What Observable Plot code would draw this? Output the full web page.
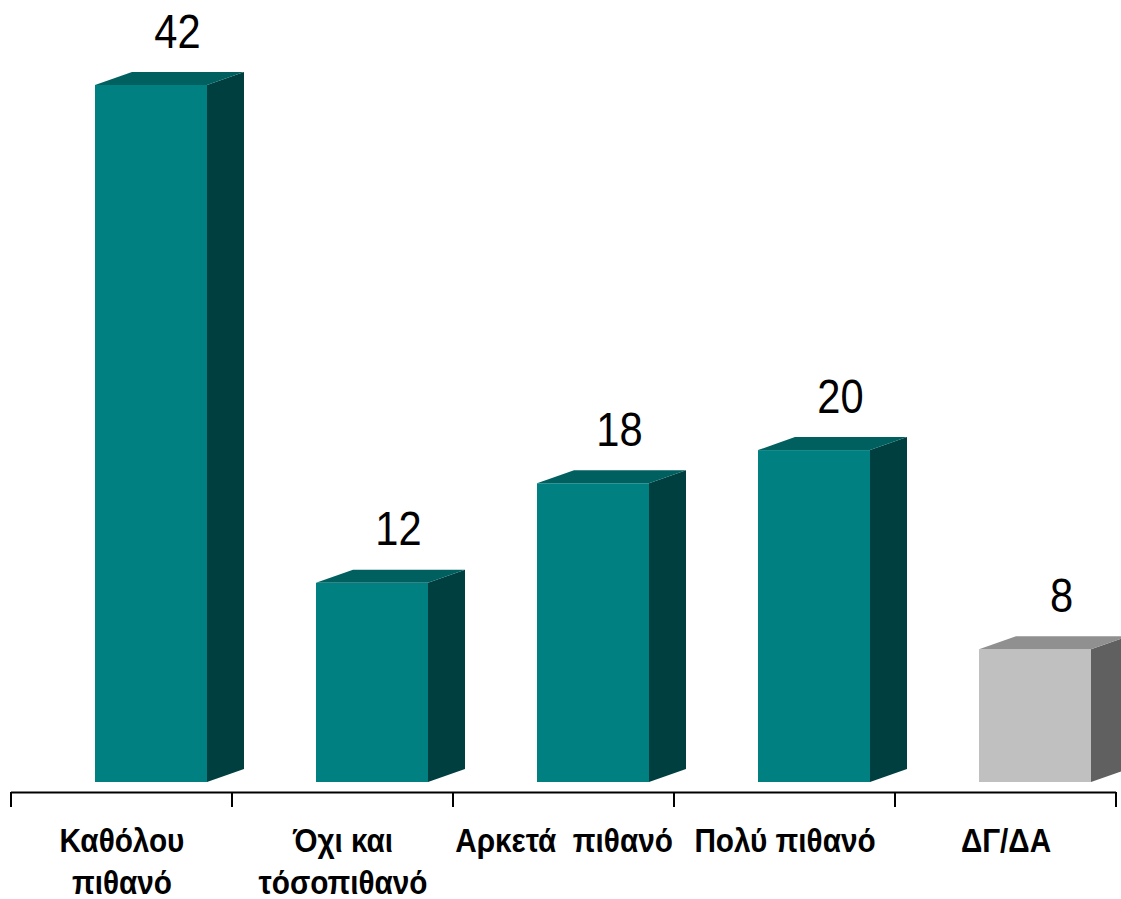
<!DOCTYPE html>
<html>
<head>
<meta charset="utf-8">
<script src="https://cdn.jsdelivr.net/npm/d3@7"></script>
<script src="https://cdn.jsdelivr.net/npm/@observablehq/plot@0.6"></script>
<style>
  html, body { margin: 0; padding: 0; background: #ffffff; }
  #chart svg { display: block; }
</style>
</head>
<body>
<div id="chart"></div>
<script>
const categories = ["Καθόλου\nπιθανό", "Όχι και\nτόσοπιθανό", "Αρκετά  πιθανό", "Πολύ πιθανό", "ΔΓ/ΔΑ"];
const values = [42, 12, 18, 20, 8];
const isNoAnswer = [false, false, false, false, true];

const data = categories.map((c, i) => ({
  category: c, value: values[i], na: isNoAnswer[i],
  line1: c.split("\n")[0], line2: c.split("\n")[1] || ""
}));

const FRONT = {teal: "#008080", gray: "#c0c0c0"};
const SIDE = {teal: "#003f3f", gray: "#606060"};
const TOP = {teal: "#006060", gray: "#909090"};
const tone = d => d.na ? "gray" : "teal";

const INSET_L = 84, INSET_R = 25, DX = 37, DY = 13;
const FONT = "'Liberation Sans', Arial, sans-serif";

const chart = Plot.plot({
  width: 1121,
  height: 899,
  marginLeft: 11,
  marginRight: 5,
  marginTop: 0,
  marginBottom: 0,
  style: {background: "#ffffff", fontFamily: FONT},
  x: {type: "band", domain: categories, range: [11, 1116], paddingInner: 0, paddingOuter: 0, axis: null},
  y: {domain: [0, 42], range: [782, 85], axis: null},
  marks: [
    Plot.barY(data, {
      x: "category", y: "value",
      insetLeft: INSET_L, insetRight: INSET_R,
      fill: d => FRONT[tone(d)]
    }),
    Plot.ruleY([0], {dy: 10, stroke: "#000000", strokeWidth: 2}),
    Plot.text(data, {
      x: "category", y: "value",
      text: d => String(d.value),
      dx: 55.5, dy: -38,
      lineAnchor: "bottom",
      fontSize: 49,
      fill: "#000000",
      fontFamily: FONT,
      className: "narrow-num"
    }),
    Plot.text(data, {
      x: "category", y: 0,
      text: "line1",
      dy: 69,
      lineAnchor: "bottom",
      fontSize: 33,
      fontWeight: "bold",
      fill: "#000000",
      fontFamily: FONT,
      className: "narrow-cat"
    }),
    Plot.text(data.filter(d => d.line2), {
      x: "category", y: 0,
      text: "line2",
      dy: 111,
      lineAnchor: "bottom",
      fontSize: 33,
      fontWeight: "bold",
      fill: "#000000",
      fontFamily: FONT,
      className: "narrow-cat"
    })
  ]
});

document.getElementById("chart").appendChild(chart);

// condense text like a narrow face
function condense(sel, k) {
  d3.select(chart).selectAll(sel).each(function () {
    const len = this.getComputedTextLength();
    this.setAttribute("textLength", (len * k).toFixed(2));
    this.setAttribute("lengthAdjust", "spacingAndGlyphs");
  });
}
condense(".narrow-num text", 0.85);
condense(".narrow-cat text", 0.9);

// 3D side and top faces plus boundary ticks, derived from Plot's own scales
const xs = chart.scale("x"), ys = chart.scale("y");
const svg = d3.select(chart);
const bw = xs.bandwidth;
const faces = svg.insert("g", ":scope > g:nth-of-type(2)");
data.forEach(d => {
  const x0 = xs.apply(d.category);
  const xl = x0 + INSET_L, xr = x0 + bw - INSET_R;
  const yb = ys.apply(0), yt = ys.apply(d.value);
  faces.append("polygon")
    .attr("points", [[xr, yb], [xr + DX, yb - DY], [xr + DX, yt - DY], [xr, yt]].map(p => p.join(",")).join(" "))
    .attr("fill", SIDE[tone(d)]);
  faces.append("polygon")
    .attr("points", [[xl, yt], [xl + DX, yt - DY], [xr + DX, yt - DY], [xr, yt]].map(p => p.join(",")).join(" "))
    .attr("fill", TOP[tone(d)]);
});
const axisY = ys.apply(0) + 10;
const bounds = categories.map(c => xs.apply(c)).concat([xs.apply(categories[categories.length - 1]) + bw]);
const ticks = svg.append("g").attr("stroke", "#000000").attr("stroke-width", 2);
bounds.forEach(b => {
  ticks.append("line").attr("x1", b).attr("x2", b).attr("y1", axisY).attr("y2", axisY + 15);
});
</script>
</body>
</html>
